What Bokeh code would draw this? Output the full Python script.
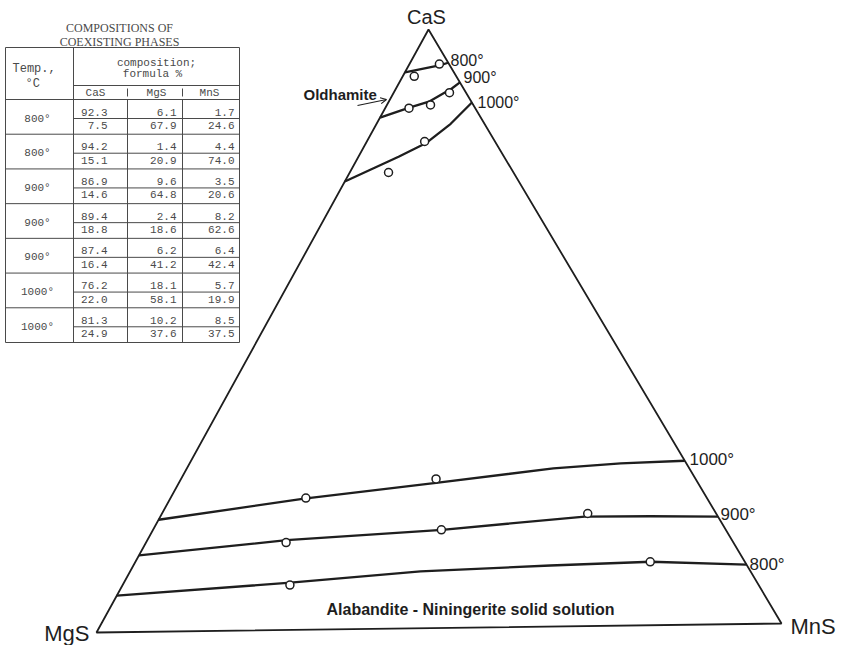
from bokeh.plotting import figure
from bokeh.models import Range1d, Arrow, OpenHead, Label
from bokeh.embed import file_html
from bokeh.resources import INLINE
from bokeh.core.properties import value

# ---------------- data ----------------
# Table: compositions of coexisting phases, formula %
temps = ["800°", "800°", "900°", "900°", "900°", "1000°", "1000°"]
old_cas = [92.3, 94.2, 86.9, 89.4, 87.4, 76.2, 81.3]
old_mgs = [6.1, 1.4, 9.6, 2.4, 6.2, 18.1, 10.2]
old_mns = [1.7, 4.4, 3.5, 8.2, 6.4, 5.7, 8.5]
ala_cas = [7.5, 15.1, 14.6, 18.8, 16.4, 22.0, 24.9]
ala_mgs = [67.9, 20.9, 64.8, 18.6, 41.2, 58.1, 37.6]
ala_mns = [24.6, 74.0, 20.6, 62.6, 42.4, 19.9, 37.5]
components = ["CaS", "MgS", "MnS"]

# Plotted points (CaS, MgS, MnS)
pt_old_cas = [92.3, 94.2, 86.9, 89.4, 87.4, 76.2, 81.3]
pt_old_mgs = [6.1, 1.4, 9.6, 2.4, 6.2, 18.1, 10.2]
pt_old_mns = [1.7, 4.4, 3.5, 8.2, 6.4, 5.7, 8.5]
pt_ala_cas = [7.5, 10.6, 14.6, 18.8, 16.4, 22.0, 24.9]
pt_ala_mgs = [67.9, 13.7, 64.8, 18.6, 41.2, 58.1, 37.6]
pt_ala_mns = [24.6, 75.7, 20.6, 62.6, 42.4, 19.9, 37.5]

# Isotherms (CaS, MgS, MnS)
iso_800_ca = [(92.9, 7.1, 0.0), (94.0, 1.5, 4.5), (94.4, 0.0, 5.6)]
iso_900_ca = [(85.4, 14.6, 0.0), (87.0, 9.5, 3.5), (88.0, 6.0, 6.0), (90.1, 1.7, 8.2), (91.1, 0.0, 8.9)]
iso_1000_ca = [(74.8, 25.2, 0.0), (76.7, 20.5, 2.8), (78.9, 15.3, 5.9), (81.1, 10.0, 8.9), (84.2, 4.9, 10.9), (87.7, 0.0, 12.3)]
iso_1000_mn = [(18.7, 81.3, 0.0), (21.9, 58.4, 19.7), (24.3, 37.6, 38.1), (26.4, 19.7, 53.9), (27.1, 9.5, 63.4), (27.4, 0.0, 72.6)]
iso_900_mn = [(12.8, 87.2, 0.0), (15.0, 64.5, 20.5), (16.4, 41.1, 42.5), (18.3, 19.3, 62.4), (18.2, 9.8, 72.0), (18.0, 0.0, 82.0)]
iso_800_mn = [(6.1, 93.9, 0.0), (7.9, 67.6, 24.5), (9.5, 47.8, 42.7), (10.2, 28.5, 61.3), (10.6, 13.6, 75.8), (9.9, 0.0, 90.1)]

# ---------------- layout ----------------
W, H = 838, 645
V_CAS = (428, 29)
V_MGS = (96, 632)
V_MNS = (781, 623)


def tern(ca, mg, mn):
    s = ca + mg + mn
    a, b, c = ca / s, mg / s, mn / s
    return (a * V_CAS[0] + b * V_MGS[0] + c * V_MNS[0],
            a * V_CAS[1] + b * V_MGS[1] + c * V_MNS[1])


p = figure(width=W, height=H, output_backend="svg", toolbar_location=None,
           x_range=Range1d(0, W), y_range=Range1d(H, 0),
           x_axis_type=None, y_axis_type=None, min_border=0)
p.grid.visible = False
p.outline_line_color = None
p.background_fill_color = "white"
p.border_fill_color = "white"

INK = "#1e1e1e"

# triangle
corners = [(100, 0, 0), (0, 100, 0), (0, 0, 100), (100, 0, 0)]
tx, ty = zip(*[tern(*c) for c in corners])
p.line(list(tx), list(ty), line_color=INK, line_width=1.8)

# isotherms
for curve in [iso_800_ca, iso_900_ca, iso_1000_ca, iso_1000_mn, iso_900_mn, iso_800_mn]:
    xs, ys = zip(*[tern(*c) for c in curve])
    p.line(list(xs), list(ys), line_color=INK, line_width=2.3, line_join="round")

# points
for cas, mgs, mns in [(pt_old_cas, pt_old_mgs, pt_old_mns), (pt_ala_cas, pt_ala_mgs, pt_ala_mns)]:
    xy = [tern(a, b, c) for a, b, c in zip(cas, mgs, mns)]
    p.scatter([q[0] for q in xy], [q[1] for q in xy], marker="circle", size=8,
              fill_color="white", line_color=INK, line_width=1.5)

# vertex labels
p.add_layout(Label(x=426, y=16, text=components[0], text_font="Liberation Sans",
                   text_font_size="20px", text_align="center", text_baseline="middle",
                   text_color=INK))
p.add_layout(Label(x=89, y=633, text=components[1], text_font="Liberation Sans",
                   text_font_size="22px", text_align="right", text_baseline="middle",
                   text_color=INK))
p.add_layout(Label(x=790, y=626, text=components[2], text_font="Liberation Sans",
                   text_font_size="22px", text_align="left", text_baseline="middle",
                   text_color=INK))

# temperature labels
for (x, y, t, fs) in [(450, 60, "800°", "16px"), (463, 77, "900°", "16px"), (477, 102, "1000°", "16px"),
                      (689, 459, "1000°", "17px"), (720, 514, "900°", "17px"), (749, 564, "800°", "17px")]:
    p.add_layout(Label(x=x, y=y, text=t, text_font="Liberation Sans", text_font_size=fs,
                       text_align="left", text_baseline="middle", text_color=INK))

p.add_layout(Label(x=303, y=94, text="Oldhamite", text_font="Liberation Sans",
                   text_font_size="15px", text_font_style="bold", text_align="left",
                   text_baseline="middle", text_color=INK))
p.add_layout(Arrow(end=OpenHead(size=6, line_width=1.2, line_color=INK),
                   x_start=357, y_start=105, x_end=386, y_end=99, line_width=1.2, line_color=INK))
p.add_layout(Label(x=470, y=609, text="Alabandite - Niningerite solid solution",
                   text_font="Liberation Sans", text_font_size="16px", text_font_style="bold",
                   text_align="center", text_baseline="middle", text_color=INK))

# ---------------- table ----------------
TC = "#4a4a4a"
TL, TR, TT, TB = 5, 239, 47, 342
XT = 73
XC = [127, 182]
YH, YS = 85, 99
GH = (TB - YS) / len(temps)

segs_x0, segs_y0, segs_x1, segs_y1 = [], [], [], []


def seg(x0, y0, x1, y1):
    segs_x0.append(x0); segs_y0.append(y0); segs_x1.append(x1); segs_y1.append(y1)


seg(TL, TT, TR, TT); seg(TL, TB, TR, TB); seg(TL, TT, TL, TB); seg(TR, TT, TR, TB)
seg(XT, TT, XT, TB); seg(XT, YH, TR, YH); seg(TL, YS, TR, YS)
for xc in XC:
    seg(xc, YS, xc, TB)
    seg(xc, 88, xc, 96)
for i in range(len(temps)):
    top = YS + i * GH
    seg(XT, top + 19, TR, top + 19)
    if i > 0:
        seg(TL, top, TR, top)
p.segment(segs_x0, segs_y0, segs_x1, segs_y1, line_color=TC, line_width=1)

# title and headers
p.text(x=[119, 119], y=[27, 41], text=["COMPOSITIONS OF", "COEXISTING PHASES"],
       text_font=value("Liberation Serif"), text_font_size="12px", text_align="center",
       text_baseline="middle", text_color=TC)
p.text(x=[12, 25], y=[68, 83], text=["Temp.,", "°C"], text_font=value("Liberation Mono"),
       text_font_size="12px", text_align="left", text_baseline="middle", text_color=TC)
p.text(x=[156, 152], y=[62, 73], text=["composition;", "formula %"], text_font=value("Liberation Mono"),
       text_font_size="11px", text_align="center", text_baseline="middle", text_color=TC)
p.text(x=[95, 156, 209], y=[92, 92, 92], text=components, text_font=value("Liberation Mono"),
       text_font_size="11px", text_align="center", text_baseline="middle", text_color=TC)

# cells
cx, cy, ct = [], [], []
lx, ly = [], []
XR = [107, 176, 234]
for i in range(len(temps)):
    top = YS + i * GH
    lx.append(37); ly.append(top + 19)
    for j, col in enumerate([old_cas, old_mgs, old_mns]):
        cx.append(XR[j]); cy.append(top + 12.5); ct.append(f"{col[i]:.1f}")
    for j, col in enumerate([ala_cas, ala_mgs, ala_mns]):
        cx.append(XR[j]); cy.append(top + 26); ct.append(f"{col[i]:.1f}")
p.text(x=cx, y=cy, text=ct, text_font=value("Liberation Mono"), text_font_size="11px",
       text_align="right", text_baseline="middle", text_color=TC)
p.text(x=lx, y=ly, text=temps, text_font=value("Liberation Mono"), text_font_size="11px",
       text_align="center", text_baseline="middle", text_color=TC)

open("out.html", "w").write(file_html(p, INLINE))
